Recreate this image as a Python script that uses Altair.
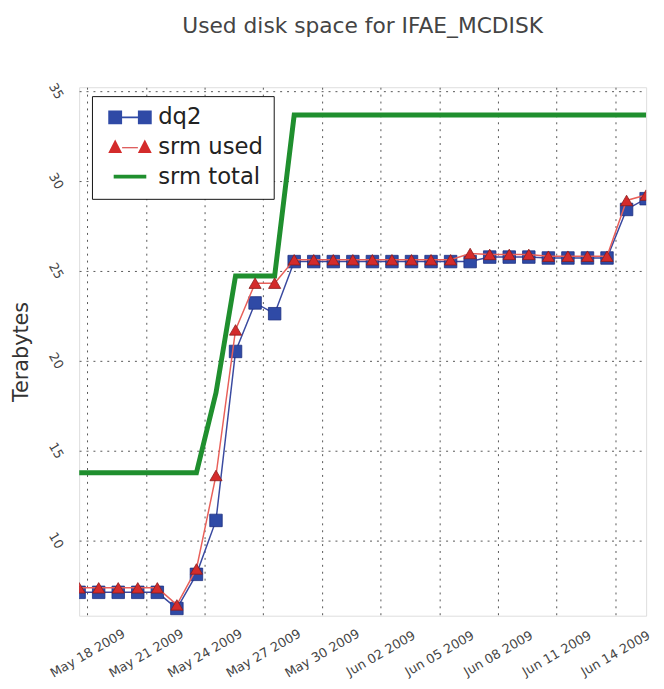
import altair as alt
import pandas as pd

# ---- data ----
dates = [
    "2009-05-17T14:00:00", "2009-05-18T14:00:00", "2009-05-19T14:00:00", "2009-05-20T14:00:00",
    "2009-05-21T14:00:00", "2009-05-22T14:00:00", "2009-05-23T14:00:00", "2009-05-24T14:00:00",
    "2009-05-25T14:00:00", "2009-05-26T14:00:00", "2009-05-27T14:00:00", "2009-05-28T14:00:00",
    "2009-05-29T14:00:00", "2009-05-30T14:00:00", "2009-05-31T14:00:00", "2009-06-01T14:00:00",
    "2009-06-02T14:00:00", "2009-06-03T14:00:00", "2009-06-04T14:00:00", "2009-06-05T14:00:00",
    "2009-06-06T14:00:00", "2009-06-07T14:00:00", "2009-06-08T14:00:00", "2009-06-09T14:00:00",
    "2009-06-10T14:00:00", "2009-06-11T14:00:00", "2009-06-12T14:00:00", "2009-06-13T14:00:00",
    "2009-06-14T14:00:00", "2009-06-15T14:00:00",
]
dq2 = [7.1, 7.1, 7.1, 7.1, 7.1, 6.2, 8.1, 11.1, 20.5, 23.2, 22.6,
       25.5, 25.5, 25.5, 25.5, 25.5, 25.5, 25.5, 25.5, 25.5,
       25.5, 25.75, 25.75, 25.75, 25.7, 25.7, 25.7, 25.7, 28.4, 29.0]
srm_used = [7.35, 7.35, 7.35, 7.35, 7.35, 6.4, 8.4, 13.6, 21.7, 24.3, 24.3,
            25.6, 25.6, 25.6, 25.6, 25.6, 25.6, 25.6, 25.6, 25.6,
            25.95, 25.9, 25.9, 25.9, 25.8, 25.8, 25.8, 25.8, 28.9, 29.2]
srm_total = [13.75, 13.75, 13.75, 13.75, 13.75, 13.75, 13.75, 18.2, 24.7, 24.7, 24.7,
             33.65, 33.65, 33.65, 33.65, 33.65, 33.65, 33.65, 33.65, 33.65,
             33.65, 33.65, 33.65, 33.65, 33.65, 33.65, 33.65, 33.65, 33.65, 33.65]

series_names = ["dq2", "srm used", "srm total"]
y_ticks = [10, 15, 20, 25, 30, 35]
x_tick_days = [(5, 18), (5, 21), (5, 24), (5, 27), (5, 30),
               (6, 2), (6, 5), (6, 8), (6, 11), (6, 14)]

BLUE = "#2f4aa6"
BLUE_LINE = "#3a4aa0"
RED = "#d42b2b"
RED_LINE = "#e8605a"
GREEN = "#1f8f2e"
FONT = "DejaVu Sans"

df_dq2 = pd.DataFrame({"date": dates, "value": dq2})
df_used = pd.DataFrame({"date": dates, "value": srm_used})
df_total = pd.DataFrame({"date": dates, "value": srm_total})

x_enc = alt.X(
    "date:T",
    scale=alt.Scale(domain=[alt.DateTime(year=2009, month=5, date=17, hours=14),
                            alt.DateTime(year=2009, month=6, date=15, hours=14)]),
    axis=alt.Axis(
        title=None,
        values=[alt.DateTime(year=2009, month=m, date=d) for m, d in x_tick_days],
        format="%b %d %Y",
        labelAngle=-30,
        labelAlign="center",
        labelBaseline="middle",
        labelPadding=38,
        labelFontSize=13,
        labelFont=FONT,
        labelColor="#444",
        ticks=False,
        tickSize=0,
        domain=False,
        grid=True,
        gridColor="#555",
        gridDash=[2, 5],
        gridWidth=1,
        labelOverlap=False,
        labelFlush=False,
    ),
)
y_enc = alt.Y(
    "value:Q",
    scale=alt.Scale(domain=[5.8, 35.2], nice=False, zero=False),
    axis=alt.Axis(
        title="Terabytes",
        values=y_ticks,
        labelAngle=60,
        labelAlign="center",
        labelBaseline="middle",
        labelPadding=24,
        labelFontSize=13,
        labelFont=FONT,
        labelColor="#444",
        ticks=False,
        tickSize=0,
        domain=False,
        grid=True,
        gridColor="#555",
        gridDash=[2, 5],
        gridWidth=1,
        titleFont=FONT,
        titleFontSize=21,
        titleFontWeight="normal",
        titleColor="#333",
        titleX=-58,
        titleY=267.5,
        titleAngle=270,
        titleAlign="center",
        titleBaseline="middle",
        labelFlush=False,
    ),
)

green_line = alt.Chart(df_total).mark_line(color=GREEN, strokeWidth=5, clip=True).encode(x=x_enc, y=y_enc)
blue_line = alt.Chart(df_dq2).mark_line(color=BLUE_LINE, strokeWidth=1.5, clip=True).encode(x=x_enc, y=y_enc)
blue_pts = alt.Chart(df_dq2).mark_point(
    shape="square", filled=True, size=160, fill=BLUE, stroke="#1d2f80", strokeWidth=0.8, opacity=1, clip=True
).encode(x=x_enc, y=y_enc)
red_line = alt.Chart(df_used).mark_line(color=RED_LINE, strokeWidth=1.5, clip=True).encode(x=x_enc, y=y_enc)
red_pts = alt.Chart(df_used).mark_point(
    shape="triangle-up", filled=True, size=150, fill=RED, stroke="#8a1c1c", strokeWidth=0.8, opacity=1, clip=True
).encode(x=x_enc, y=y_enc)

# legend symbols: marker-line-marker drawn as custom paths
sym_dq2 = ("M-2.2,-0.7H-0.8V0.7H-2.2Z M0.8,-0.7H2.2V0.7H0.8Z "
           "M-0.8,-0.08H0.8V0.08H-0.8Z")
sym_used = ("M-1.5,-0.75L-0.8,0.6L-2.2,0.6Z M1.5,-0.75L2.2,0.6L0.8,0.6Z "
            "M-0.8,0.02H0.8V0.14H-0.8Z")
sym_total = "M-1.65,-0.2H1.65V0.2H-1.65Z"

legend_cfg = dict(
    orient="none",
    legendX=13,
    legendY=9,
    title=None,
    padding=10,
    symbolOffset=17,
    labelOffset=17,
    labelFontSize=23,
    labelFont=FONT,
    labelColor="#222",
    rowPadding=6,
    strokeColor="#111",
    fillColor="white",
    symbolSize=400,
    symbolStrokeWidth=0,
    labelExpr="datum.label + '\u00a0\u00a0\u00a0'",
)
legend_df = pd.DataFrame({"series": series_names})
legend_layer = alt.Chart(legend_df).mark_point(filled=True, opacity=1).encode(
    color=alt.Color("series:N", scale=alt.Scale(domain=series_names, range=[BLUE, RED, GREEN]),
                    legend=alt.Legend(**legend_cfg)),
    shape=alt.Shape("series:N", scale=alt.Scale(domain=series_names, range=[sym_dq2, sym_used, sym_total]),
                    legend=alt.Legend(**legend_cfg)),
).transform_filter("false")

chart = alt.layer(green_line, blue_line, blue_pts, red_line, red_pts, legend_layer).properties(
    width=574,
    height=535,
    autosize=alt.AutoSizeParams(type="none"),
    padding={"left": 72, "top": 76, "right": 10, "bottom": 70},
    title=alt.TitleParams(
        "Used disk space for IFAE_MCDISK",
        font=FONT,
        fontSize=22,
        fontWeight="normal",
        color="#444",
        anchor="middle",
        baseline="alphabetic",
        offset=26,
    ),
).configure_view(stroke="#222", strokeWidth=1.3).configure(background="white")

chart.save("out.html", embed_options={"renderer": "svg", "actions": False})
